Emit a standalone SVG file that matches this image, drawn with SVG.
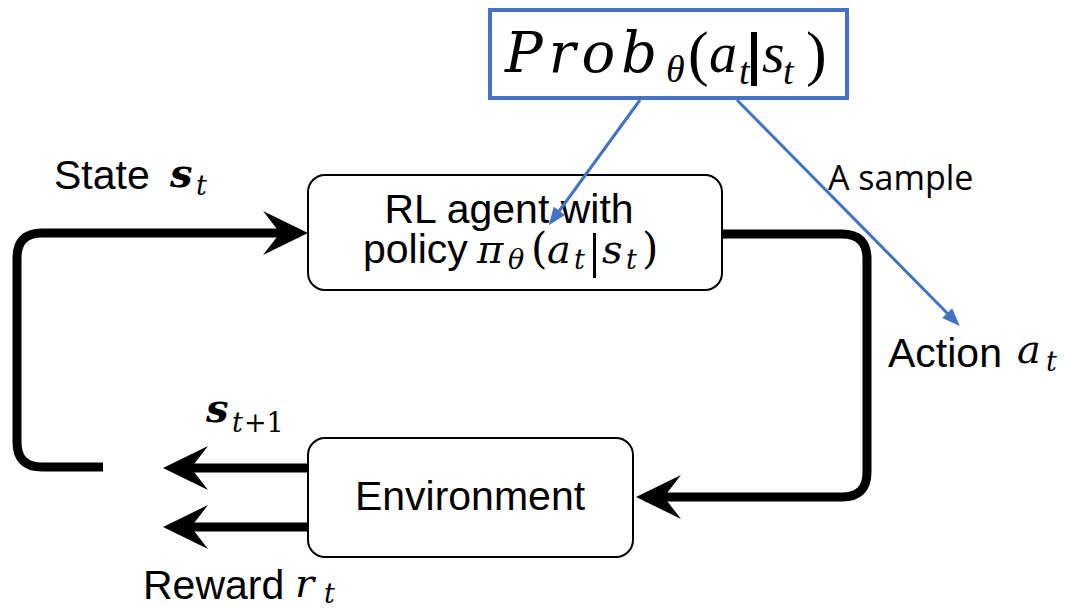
<svg xmlns="http://www.w3.org/2000/svg" width="1066" height="608" viewBox="0 0 1066 608">
<style>
.box{fill:#fff;stroke:#000;stroke-width:2}
.lbl{font-family:"Liberation Sans",Arial,sans-serif;font-size:41px;fill:#000}
.m{font-family:"DejaVu Serif","Liberation Serif",serif;font-style:italic;fill:#000}
.mt{font-family:"Liberation Serif","Times New Roman",serif;font-style:italic;fill:#000}
.up{font-family:"DejaVu Serif","Liberation Serif",serif;fill:#000}
.upt{font-family:"Liberation Serif","Times New Roman",serif;fill:#000}
.thick{fill:none;stroke:#000;stroke-width:9}
.blue{fill:none;stroke:#4472C4;stroke-width:3}
.cal{font-family:"Open Sans","Liberation Sans",sans-serif;font-size:34px;fill:#000}
</style>
<defs>
<marker id="bk" markerUnits="userSpaceOnUse" markerWidth="46" markerHeight="46" refX="17" refY="22" orient="auto" overflow="visible">
<path d="M0,0 L45,22 L0,44 L17,22 Z" fill="#000"/>
</marker>
<marker id="bl" markerUnits="userSpaceOnUse" markerWidth="20" markerHeight="16" refX="4" refY="7" orient="auto" overflow="visible">
<path d="M0,0 L18,7 L0,14 Z" fill="#4472C4"/>
</marker>
</defs>

<g id="prob">
<rect x="490" y="10" width="357" height="88" fill="#fff" stroke="#4472C4" stroke-width="4"/>
<text class="m" x="505" y="72" font-size="56" letter-spacing="6">Prob</text>
<text class="mt" x="666" y="82" font-size="38">θ</text>
<text class="upt" x="688" y="74" font-size="62">(</text>
<text class="mt" x="709" y="72" font-size="56">a</text>
<text class="mt" x="739" y="84" font-size="38">t</text>
<rect x="751" y="32" width="6" height="54" fill="#000"/>
<text class="mt" x="762" y="72" font-size="58">s</text>
<text class="mt" x="783" y="84" font-size="38">t</text>
<text class="upt" x="806" y="74" font-size="62">)</text>
</g>

<g id="agent">
<rect class="box" x="308" y="175" width="414" height="115" rx="17"/>
<text class="lbl" x="509" y="223" text-anchor="middle" font-size="40">RL agent with</text>
<text class="lbl" x="363" y="263" font-size="40">policy</text>
<text class="m" x="477" y="263" font-size="40">π</text>
<text class="m" x="508" y="269" font-size="27">θ</text>
<text class="up" x="531" y="263" font-size="42">(</text>
<text class="m" x="547" y="263" font-size="40">a</text>
<text class="m" x="574" y="269" font-size="27">t</text>
<rect x="593" y="233" width="3" height="45" fill="#000"/>
<text class="m" x="602" y="263" font-size="40">s</text>
<text class="m" x="626" y="269" font-size="27">t</text>
<text class="up" x="642" y="263" font-size="42">)</text>
</g>

<g id="environment">
<rect class="box" x="308" y="438" width="325" height="119" rx="17"/>
<text class="lbl" x="470" y="510" text-anchor="middle" font-size="40">Environment</text>
</g>

<g id="labels">
<text class="lbl" x="54" y="189">State</text>
<text class="m" x="170" y="187" font-size="40" font-weight="bold">s</text>
<text class="m" x="196" y="195" font-size="27">t</text>
<text class="m" x="206" y="422" font-size="40" font-weight="bold">s</text>
<text class="m" x="232" y="432" font-size="27">t</text>
<text class="up" x="244" y="432" font-size="27">+1</text>
<text class="lbl" x="143" y="599">Reward</text>
<text class="m" x="295" y="597" font-size="40">r</text>
<text class="m" x="324" y="603" font-size="27">t</text>
<text class="lbl" x="888" y="367">Action</text>
<text class="m" x="1017" y="363" font-size="40">a</text>
<text class="m" x="1046" y="371" font-size="27">t</text>
<text class="cal" x="828" y="190">A sample</text>
</g>

<g id="connectors">
<path class="thick" d="M103,467 H42 Q17,467 17,442 V258 Q17,233 42,233 H280" marker-end="url(#bk)"/>
<path class="thick" d="M722,234 H842 Q867,234 867,259 V472 Q867,497 842,497 H664" marker-end="url(#bk)"/>
<path class="thick" d="M308,468 H191" marker-end="url(#bk)"/>
<path class="thick" d="M308,527 H191" marker-end="url(#bk)"/>
<path class="blue" d="M640,100 L557,214" marker-end="url(#bl)"/>
<path class="blue" d="M737,100 L950,316" marker-end="url(#bl)"/>
</g>
</svg>
